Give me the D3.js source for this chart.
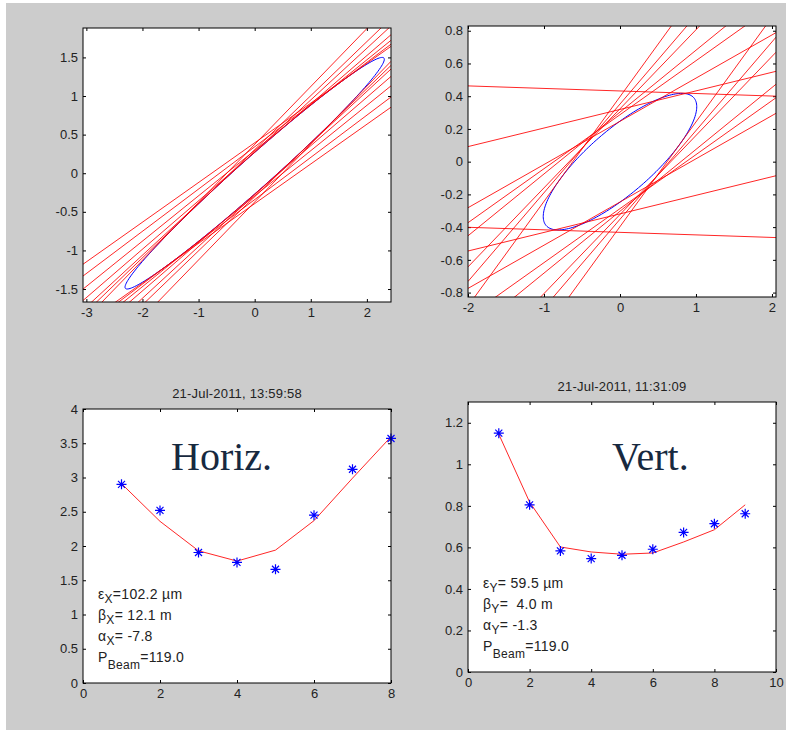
<!DOCTYPE html>
<html>
<head>
<meta charset="utf-8">
<script src="https://cdn.jsdelivr.net/npm/d3@7"></script>
<style>
  body { margin: 0; background: #fff; }
</style>
</head>
<body>
<div id="plot"></div>
<script>
// ---- data ----
// phase space, horizontal (top left)
var horizXLim = [-3.06, 2.43];
var horizYLim = [-1.668, 1.881];
var horizXTicks = [-3, -2, -1, 0, 1, 2];
var horizYTicks = [-1.5, -1, -0.5, 0, 0.5, 1, 1.5];
var horizSigma = [5.34, 3.41, 2.25];          // <xx>, <xy>, <yy> of the blue ellipse
var horizSlopes = [0.514, 0.547, 0.587, 0.627, 0.67, 0.70, 0.75];
var horizOffsets = [0.394, 0.342, 0.295, 0.270, 0.279, 0.305, 0.373];

// phase space, vertical (top right)
var vertXLim = [-2, 2.053];
var vertYLim = [-0.827, 0.829];
var vertXTicks = [-2, -1, 0, 1, 2];
var vertYTicks = [-0.8, -0.6, -0.4, -0.2, 0, 0.2, 0.4, 0.6, 0.8];
var vertSigma = [1.02, 0.339, 0.174];
var vertSlopes = [-0.0155, 0.1135, 0.264, 0.330, 0.378, 0.483, 0.542, 0.64];
var vertOffsets = [0.432, 0.319, 0.2465, 0.287, 0.303, 0.323, 0.352, 0.397];

// quad scan, horizontal (bottom left)
var scanHTitle = "21-Jul-2011, 13:59:58";
var scanHX = [1, 2, 3, 4, 5, 6, 7, 8];
var scanHY = [2.90, 2.52, 1.905, 1.76, 1.66, 2.45, 3.12, 3.57];
var scanHFit = [2.91, 2.36, 1.93, 1.78, 1.94, 2.37, 2.99, 3.595];
var scanHXTicks = [0, 2, 4, 6, 8];
var scanHYTicks = [0, 0.5, 1, 1.5, 2, 2.5, 3, 3.5, 4];
var scanHInfo = [["\u03b5", "X", "=102.2 \u00b5m"], ["\u03b2", "X", "= 12.1 m"], ["\u03b1", "X", "= -7.8"], ["P", "Beam", "=119.0"]];

// quad scan, vertical (bottom right)
var scanVTitle = "21-Jul-2011, 11:31:09";
var scanVX = [1, 2, 3, 4, 5, 6, 7, 8, 9];
var scanVY = [1.150, 0.805, 0.583, 0.546, 0.562, 0.591, 0.672, 0.714, 0.762];
var scanVFit = [1.145, 0.818, 0.602, 0.578, 0.567, 0.573, 0.626, 0.685, 0.805];
var scanVXTicks = [0, 2, 4, 6, 8, 10];
var scanVYTicks = [0, 0.2, 0.4, 0.6, 0.8, 1, 1.2];
var scanVInfo = [["\u03b5", "Y", "= 59.5 \u00b5m"], ["\u03b2", "Y", "=  4.0 m"], ["\u03b1", "Y", "= -1.3"], ["P", "Beam", "=119.0"]];

var sansFont = "'Liberation Sans', Arial, sans-serif";
var serifFont = "'Liberation Serif', 'Times New Roman', serif";

/* Step 1
 * workspace
 */
var svgWidth = 793;
var svgHeight = 731;

var svg = d3.select("#plot")
    .append("svg")
    .attr("width", svgWidth)
    .attr("height", svgHeight)
    .style("font-family", sansFont);

svg.append("rect")
    .attr("x", 6).attr("y", 3)
    .attr("width", 780).attr("height", 727)
    .attr("fill", "#cccccc");

var defs = svg.append("defs");
var clipCount = 0;

/* Step 2
 * one MATLAB-like axes box
 */
function makeAxes(box, xDomain, yDomain, xTicks, yTicks) {
    var w = box.right - box.left;
    var h = box.bottom - box.top;
    var g = svg.append("g")
        .attr("transform", `translate(${box.left}, ${box.top})`);

    var xScale = d3.scaleLinear().domain(xDomain).range([0, w]);
    var yScale = d3.scaleLinear().domain(yDomain).range([h, 0]);

    g.append("rect")
        .attr("width", w).attr("height", h)
        .attr("fill", "#fff");

    var fmt = d => String(d);
    var bottomAxis = d3.axisBottom(xScale).tickValues(xTicks).tickFormat(fmt)
        .tickSizeInner(-3).tickSizeOuter(0).tickPadding(6);
    var leftAxis = d3.axisLeft(yScale).tickValues(yTicks).tickFormat(fmt)
        .tickSizeInner(-3).tickSizeOuter(0).tickPadding(5);
    var topAxis = d3.axisTop(xScale).tickValues(xTicks).tickFormat("")
        .tickSizeInner(-3).tickSizeOuter(0);
    var rightAxis = d3.axisRight(yScale).tickValues(yTicks).tickFormat("")
        .tickSizeInner(-3).tickSizeOuter(0);

    var axes = [
        g.append("g").attr("transform", `translate(0, ${h})`).call(bottomAxis),
        g.append("g").call(leftAxis),
        g.append("g").call(topAxis),
        g.append("g").attr("transform", `translate(${w}, 0)`).call(rightAxis)
    ];
    axes.forEach(a => {
        a.attr("font-size", 13)
            .attr("font-family", sansFont);
        a.selectAll("text").attr("fill", "#222");
        a.select(".domain").remove();
    });

    var clipId = "clip" + (clipCount++);
    defs.append("clipPath").attr("id", clipId)
        .append("rect").attr("width", w).attr("height", h);
    var plotArea = g.append("g").attr("clip-path", `url(#${clipId})`);

    return { g: g, plot: plotArea, x: xScale, y: yScale, w: w, h: h };
}

function frame(ax) {
    ax.g.append("rect")
        .attr("width", ax.w).attr("height", ax.h)
        .attr("fill", "none")
        .attr("stroke", "#000")
        .attr("stroke-width", 1);
}

/* Step 3
 * phase space plots: ellipse + measurement lines
 */
function phasePlot(box, xLim, yLim, xTicks, yTicks, sigma, slopes, offsets) {
    var ax = makeAxes(box, xLim, yLim, xTicks, yTicks);

    // ellipse from its second moments
    var a = Math.sqrt(sigma[0]);
    var b = sigma[1] / a;
    var c = Math.sqrt(sigma[2] - b * b);
    var angles = d3.range(0, 2 * Math.PI + 0.01, Math.PI / 90);
    var ellipseLine = d3.line()
        .x(t => ax.x(a * Math.cos(t)))
        .y(t => ax.y(b * Math.cos(t) + c * Math.sin(t)));
    ax.plot.append("path")
        .attr("d", ellipseLine(angles))
        .attr("fill", "none")
        .attr("stroke", "#0000ff")
        .attr("stroke-width", 1);

    // each measurement gives two parallel lines  y = m x +/- c
    var lines = [];
    slopes.forEach((m, i) => {
        lines.push({ m: m, c: offsets[i] });
        lines.push({ m: m, c: -offsets[i] });
    });
    ax.plot.selectAll("line.meas")
        .data(lines)
        .enter().append("line")
        .attr("class", "meas")
        .attr("x1", ax.x(xLim[0]))
        .attr("x2", ax.x(xLim[1]))
        .attr("y1", d => ax.y(d.m * xLim[0] + d.c))
        .attr("y2", d => ax.y(d.m * xLim[1] + d.c))
        .attr("stroke", "#ff0000")
        .attr("stroke-opacity", 0.85)
        .attr("stroke-width", 1);

    frame(ax);
    return ax;
}

phasePlot({ left: 83, top: 28, right: 391, bottom: 302 },
    horizXLim, horizYLim, horizXTicks, horizYTicks, horizSigma, horizSlopes, horizOffsets);
phasePlot({ left: 468, top: 26, right: 776, bottom: 297 },
    vertXLim, vertYLim, vertXTicks, vertYTicks, vertSigma, vertSlopes, vertOffsets);

/* Step 4
 * quad scan plots: measured points + fit
 */
var starPath = "M-5,0H5M0,-5V5M-3.5,-3.5L3.5,3.5M-3.5,3.5L3.5,-3.5";

function scanPlot(box, xDomain, yDomain, xTicks, yTicks, xs, ys, fit, title, label, labelX, info, infoX, infoY) {
    var ax = makeAxes(box, xDomain, yDomain, xTicks, yTicks);

    // title
    ax.g.append("text")
        .attr("x", ax.w / 2)
        .attr("y", -11)
        .attr("text-anchor", "middle")
        .attr("font-size", "13px")
        .attr("letter-spacing", "0.2px")
        .attr("fill", "#222")
        .text(title);

    // fit curve
    var fitLine = d3.line()
        .x((d, i) => ax.x(xs[i]))
        .y(d => ax.y(d));
    ax.plot.append("path")
        .attr("d", fitLine(fit))
        .attr("fill", "none")
        .attr("stroke", "#ff0000")
        .attr("stroke-opacity", 0.85)
        .attr("stroke-width", 1);

    // data points
    ax.g.selectAll("path.star")
        .data(ys)
        .enter().append("path")
        .attr("class", "star")
        .attr("transform", (d, i) => `translate(${ax.x(xs[i])}, ${ax.y(d)})`)
        .attr("d", starPath)
        .attr("fill", "none")
        .attr("stroke", "#0000ff")
        .attr("stroke-width", 1.2);

    // big label
    ax.g.append("text")
        .attr("x", labelX)
        .attr("y", 470 - box.top)
        .style("font-family", serifFont)
        .attr("font-size", "40px")
        .attr("fill", "#17293f")
        .text(label);

    // fit parameters
    info.forEach((row, i) => {
        var t = ax.g.append("text")
            .attr("x", infoX)
            .attr("y", infoY + i * 21)
            .attr("font-size", "14px")
            .attr("letter-spacing", "0.3px")
            .style("white-space", "pre")
            .attr("fill", "#222");
        t.append("tspan").text(row[0]);
        t.append("tspan")
            .attr("dy", row[1] === "Beam" ? 7 : 4)
            .attr("font-size", "12px")
            .text(row[1]);
        t.append("tspan")
            .attr("dy", row[1] === "Beam" ? -7 : -4)
            .text(row[2]);
    });

    frame(ax);
    return ax;
}

scanPlot({ left: 83, top: 409, right: 391, bottom: 683 },
    [0, 8], [0, 4], scanHXTicks, scanHYTicks, scanHX, scanHY, scanHFit,
    scanHTitle, "Horiz.", 171 - 83, scanHInfo, 98 - 83, 599 - 409);
scanPlot({ left: 468, top: 402, right: 776, bottom: 672 },
    [0, 10], [0, 1.3], scanVXTicks, scanVYTicks, scanVX, scanVY, scanVFit,
    scanVTitle, "Vert.", 612 - 468, scanVInfo, 483 - 468, 588 - 402);
</script>
</body>
</html>
